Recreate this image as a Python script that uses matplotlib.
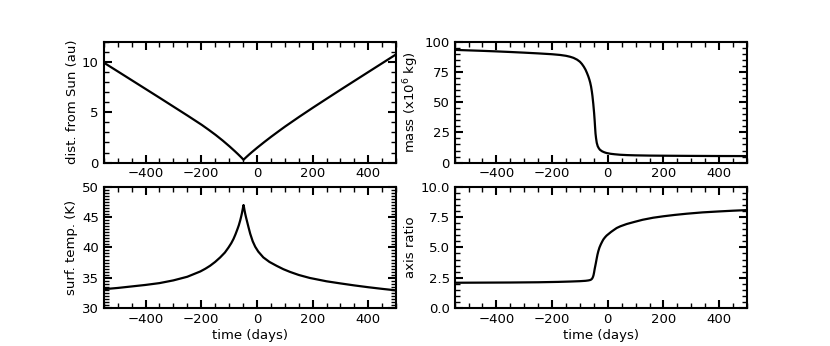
import matplotlib
matplotlib.use("Agg")
import matplotlib.pyplot as plt
from matplotlib.ticker import MultipleLocator

plt.rcParams["font.size"] = 9.5

# heliocentric distance (au)
t_dist = [-550, -498, -448, -398, -348, -298, -248, -198, -173, -148, -123, -98, -78, -68, -58,
          -53, -50, -48, -46, -43, -38, -28, -18, 2, 27, 52, 84, 102, 152, 202, 246, 302, 402, 500]
dist = [9.91, 9.01, 8.14, 7.27, 6.4, 5.52, 4.64, 3.74, 3.25, 2.74, 2.19, 1.60, 1.10, 0.84, 0.57,
        0.43, 0.34, 0.28, 0.34, 0.42, 0.55, 0.80, 1.04, 1.50, 2.05, 2.58, 3.23, 3.59, 4.54, 5.46,
        6.25, 7.25, 9.01, 10.73]

# mass (x10^6 kg)
t_mass = [-550, -500, -450, -400, -350, -300, -250, -200, -171, -150, -135, -123, -110, -100,
          -93, -86, -80, -75, -70, -66, -63, -60, -57, -55, -52, -49, -47, -45.5, -44, -42,
          -39.5, -36, -32, -28, -20, -12, -4, 10, 25, 44, 70, 100, 150, 200, 300, 400, 500]
mass = [93.1, 92.7, 92.3, 91.85, 91.35, 90.8, 90.2, 89.5, 88.9, 88.2, 87.4, 86.5, 85.0, 83.3,
        81.5, 79.2, 76.8, 74.2, 71.3, 68.5, 66.0, 62.8, 58.5, 55.0, 48.5, 40.8, 34.5, 29.0,
        24.0, 20.0, 16.3, 13.5, 11.8, 10.6, 9.3, 8.5, 7.9, 7.3, 6.9, 6.5, 6.2, 6.0, 5.8, 5.7,
        5.55, 5.45, 5.4]

# surface temperature (K)
t_temp = [-550, -500, -450, -400, -350, -300, -250, -203, -185, -168, -150, -132, -115, -102,
          -92, -84, -77, -70, -65, -60, -57, -54, -51, -49, -48, -47, -45, -42, -39, -36, -30,
          -24, -15, -6, 5, 23, 45, 71, 95, 119, 150, 190, 250, 300, 350, 400, 450, 500]
temp = [33.1, 33.3, 33.55, 33.8, 34.1, 34.55, 35.15, 36.03, 36.48, 36.97, 37.6, 38.34, 39.15,
        39.98, 40.7, 41.4, 42.15, 43.0, 43.65, 44.45, 45.0, 45.6, 46.3, 46.8, 47.0, 46.8, 46.25,
        45.55, 44.95, 44.4, 43.3, 42.25, 41.0, 40.1, 39.3, 38.35, 37.6, 36.95, 36.4, 35.95,
        35.45, 34.95, 34.4, 34.05, 33.72, 33.42, 33.15, 32.9]

# axis ratio
t_ratio = [-550, -450, -350, -250, -180, -135, -100, -80, -70, -64, -60, -57, -55, -53, -51,
           -49, -47, -45, -43, -40, -37, -34, -30, -25, -20, -16, -10, -4, 4, 12, 20, 32, 45,
           68, 95, 125, 163, 200, 240, 283, 340, 400, 450, 500]
ratio = [2.08, 2.09, 2.10, 2.12, 2.15, 2.18, 2.21, 2.24, 2.27, 2.30, 2.34, 2.40, 2.47, 2.57,
         2.72, 2.95, 3.22, 3.45, 3.68, 4.05, 4.4, 4.68, 4.98, 5.25, 5.48, 5.65, 5.83, 5.98,
         6.13, 6.28, 6.41, 6.6, 6.74, 6.93, 7.1, 7.28, 7.45, 7.57, 7.68, 7.78, 7.89, 7.97,
         8.03, 8.08]

fig, axes = plt.subplots(2, 2, figsize=(8.3, 3.46), dpi=100)

panels = [
    (axes[0, 0], t_dist, dist, "dist. from Sun (au)", (0, 12), 5, 1),
    (axes[0, 1], t_mass, mass, "mass (x10$^6$ kg)", (0, 100), 25, 5),
    (axes[1, 0], t_temp, temp, "surf. temp. (K)", (30, 50), 5, 0.5),
    (axes[1, 1], t_ratio, ratio, "axis ratio", (0, 10), 2.5, 0.5),
]

for ax, x, y, label, ylim, major, minor in panels:
    ax.plot(x, y, color="black", linewidth=1.6)
    ax.set_xlim(-550, 500)
    ax.set_ylim(*ylim)
    ax.set_ylabel(label, labelpad=2.5)
    ax.xaxis.set_major_locator(MultipleLocator(200))
    ax.xaxis.set_minor_locator(MultipleLocator(50))
    ax.yaxis.set_major_locator(MultipleLocator(major))
    ax.yaxis.set_minor_locator(MultipleLocator(minor))
    ax.tick_params(which="both", direction="in", top=True, right=True)
    ax.tick_params(which="major", length=6, width=1.5)
    ax.tick_params(which="minor", length=3.5, width=1)
    for s in ax.spines.values():
        s.set_linewidth(1.5)

axes[1, 0].set_xlabel("time (days)", labelpad=2.5)
axes[1, 1].set_xlabel("time (days)", labelpad=2.5)

plt.savefig("out.png", dpi=100)
